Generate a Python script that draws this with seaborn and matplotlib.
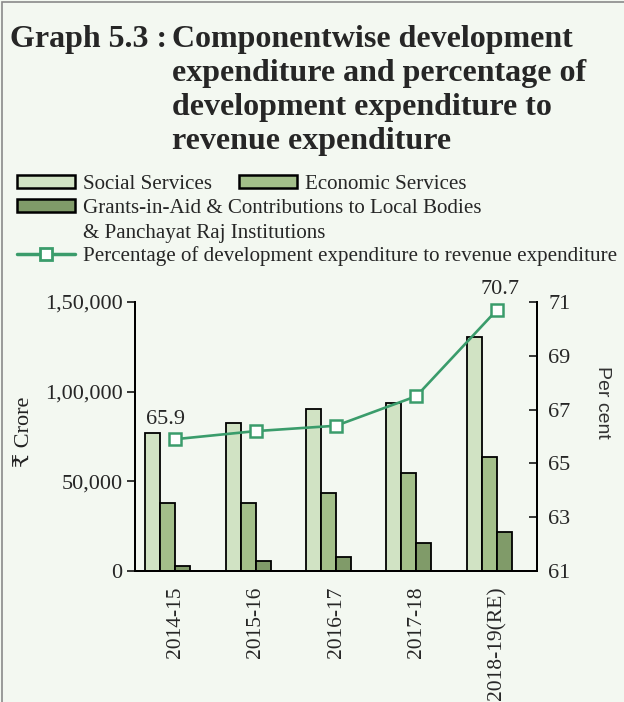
import numpy as np
import pandas as pd
import seaborn as sns
import matplotlib.pyplot as plt
from matplotlib.patches import Patch, Rectangle
from matplotlib.lines import Line2D

# data
years = ["2014-15", "2015-16", "2016-17", "2017-18", "2018-19(RE)"]
social = [76800, 82400, 90300, 93500, 130300]
economic = [37800, 37800, 43700, 54800, 63700]
grants = [2800, 5800, 8000, 15800, 21600]
pct_dev = [65.9, 66.2, 66.4, 67.5, 70.7]

series_names = ["Social Services", "Economic Services",
                "Grants-in-Aid & Contributions to Local Bodies"]
line_name = "Percentage of development expenditure to revenue expenditure"
left_ticks = [0, 50000, 100000, 150000]
left_ticklabels = ["0", "50,000", "1,00,000", "1,50,000"]
right_ticks = [61, 63, 65, 67, 69, 71]

bar_colors = ["#d1e3c4", "#a3bf8a", "#809b69"]
line_color = "#3a9c6b"
bg = "#f3f8f1"

sns.set_style("white")
plt.rcParams['font.family'] = ['Liberation Serif', 'DejaVu Serif', 'DejaVu Sans']

df = pd.DataFrame({
    "year": years * 3,
    "value": social + economic + grants,
    "component": [series_names[0]] * 5 + [series_names[1]] * 5 + [series_names[2]] * 5,
})

W, H = 624, 702
fig = plt.figure(figsize=(W / 100, H / 100), dpi=100, facecolor=bg)
ax = fig.add_axes([135 / W, 1 - 571 / H, (537 - 135) / W, (571 - 302) / H])
ax.set_facecolor(bg)

sns.barplot(data=df, x="year", y="value", hue="component", palette=bar_colors,
            width=0.56, saturation=1, edgecolor="black", linewidth=1.3,
            legend=False, ax=ax)

shift = 0.093  # line markers / labels sit right of the bar group centre
xc = np.arange(len(years)) + shift

ax2 = ax.twinx()
sns.lineplot(x=xc, y=pct_dev, ax=ax2, color=line_color, linewidth=1.9,
             marker="s", markersize=9, markerfacecolor="white",
             markeredgecolor=line_color, markeredgewidth=1.8)

ax.set_xlim(-0.5 + shift, len(years) - 0.5 + shift)
ax.set_ylim(0, 150000)
ax2.set_ylim(61, 71)

ax.set_yticks(left_ticks)
ax.set_yticklabels(left_ticklabels)
ax2.set_yticks(right_ticks)

ax.set_xticks(xc)
ax.set_xticklabels(years, rotation=90)
ax.set_xticks(np.arange(len(years) + 1) - 0.5 + shift, minor=True)
ax.tick_params(axis="x", which="major", length=0, pad=11, labelsize=15.5)
ax.tick_params(axis="x", which="minor", length=9, width=1.3, direction="inout")
ax.tick_params(axis="y", length=6, width=1.3, direction="out", labelsize=16, pad=3,
               left=True)
ax2.tick_params(axis="y", length=6, width=1.3, direction="in", labelsize=16, pad=8,
                right=True)

for a in (ax, ax2):
    a.spines["top"].set_visible(False)
    for s in ("left", "right", "bottom"):
        a.spines[s].set_linewidth(1.4)
        a.spines[s].set_color("black")
ax.set_xlabel("")
ax.set_ylabel("")
ax2.set_ylabel("")

# value labels on first and last point
ax2.annotate("65.9", (xc[0], pct_dev[0]), xytext=(-7, 7), textcoords="offset points",
             ha="center", va="bottom", fontsize=16)
ax2.annotate("70.7", (xc[-1], pct_dev[-1]), xytext=(2, 8), textcoords="offset points",
             ha="center", va="bottom", fontsize=16)

# axis titles
fig.text(25 / W, 1 - 432 / H, "₹ Crore", rotation=90, ha="center", va="center",
         fontsize=16, color="#222222")
fig.text(602 / W, 1 - 402 / H, "Per cent", rotation=-90, ha="center", va="center",
         fontsize=14, family=["Liberation Sans", "DejaVu Sans"], color="#333333")

# title
fig.text(10 / W, 1 - 47 / H, "Graph 5.3 :", ha="left", va="baseline",
         fontsize=23, fontweight="bold")
title_lines = ["Componentwise development", "expenditure and percentage of",
               "development expenditure to", "revenue expenditure"]
for i, line in enumerate(title_lines):
    fig.text(172 / W, 1 - (47 + 34 * i) / H, line, ha="left", va="baseline",
             fontsize=23, fontweight="bold")

# legend
patch_kw = dict(edgecolor="black", linewidth=1.8)
h_social = Patch(facecolor=bar_colors[0], label=series_names[0], **patch_kw)
h_econ = Patch(facecolor=bar_colors[1], label=series_names[1], **patch_kw)
h_grants = Patch(facecolor=bar_colors[2], label=series_names[2], **patch_kw)
h_blank = Patch(facecolor="none", edgecolor="none", label="& Panchayat Raj Institutions")
h_line = Line2D([], [], color=line_color, linewidth=2.5, marker="s", markersize=9,
                markerfacecolor="white", markeredgecolor=line_color,
                markeredgewidth=2, label=line_name)

leg_kw = dict(frameon=False, fontsize=15.1, handlelength=2.75, handleheight=0.6,
              handletextpad=0.4, borderpad=0, borderaxespad=0, labelspacing=0.28)
l1 = fig.legend(handles=[h_social, h_econ], loc="upper left", ncol=2,
                bbox_to_anchor=(17 / W, 1 - 175 / H), columnspacing=1.3, **leg_kw)
l2 = fig.legend(handles=[h_grants, h_blank], loc="upper left",
                bbox_to_anchor=(17 / W, 1 - 199 / H), **leg_kw)
l3 = fig.legend(handles=[h_line], loc="upper left",
                bbox_to_anchor=(17 / W, 1 - 246 / H), **leg_kw)

# thin grey frame around the panel
fig.patches.append(Rectangle((2 / W, -0.01), 1.0, 1 - 2 / H + 0.01, transform=fig.transFigure,
                             fill=False, edgecolor="#8a8a8a", linewidth=1.2))

fig.savefig("out.png", dpi=100, facecolor=bg)
